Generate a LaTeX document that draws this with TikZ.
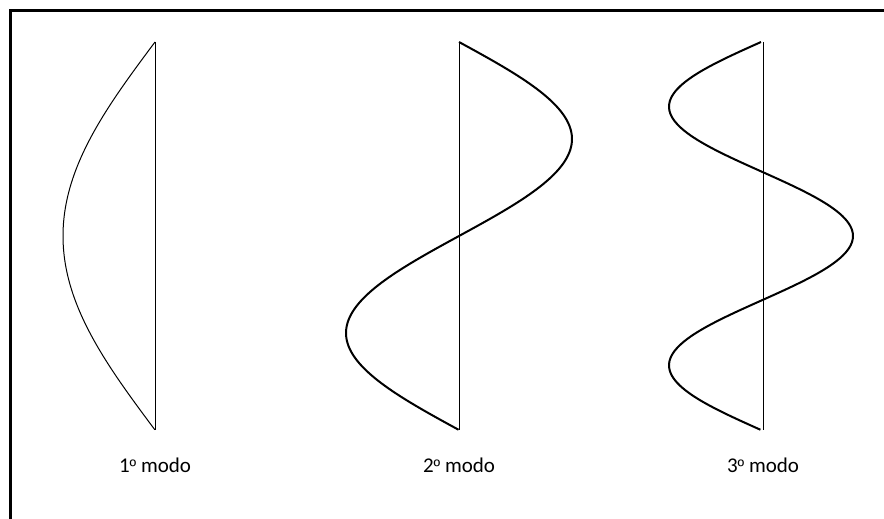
\documentclass[tikz,border=0pt]{standalone}
\usepackage{fontspec}
\setmainfont{Carlito}
\newfontfamily\ordfont{Liberation Sans}
\tikzset{
  beam/.style={black, line width=1pt},
  modeshape/.style={black, line width=2pt, smooth, samples=80, domain=0:1},
  modelabel/.style={font=\fontsize{21}{25}\selectfont}
}
\begin{document}
\begin{tikzpicture}[x=1pt, y=-1pt]
    \useasboundingbox (0,0) rectangle (884,519);
    \draw[line width=3pt] (10.5,530) -- (10.5,10.5) -- (890,10.5);

    % beams and labels
    \foreach \px/\n in {155/1, 459/2, 763/3} {
        \draw[beam] (\px,42) -- (\px,430);
        \node[modelabel] (label\n) at (\px,465) {\n{\ordfont\fontsize{18}{22}\selectfont º} modo};
    }

    % mode shapes
    \draw[modeshape, line width=1pt] plot ({155-92*sin(180*\x)}, {42+388*\x});
    \draw[modeshape] plot ({459+113*sin(360*\x)}, {42+388*\x});
    \draw[modeshape] plot ({761-92*sin(540*\x)}, {42+388*\x});
\end{tikzpicture}
\end{document}
